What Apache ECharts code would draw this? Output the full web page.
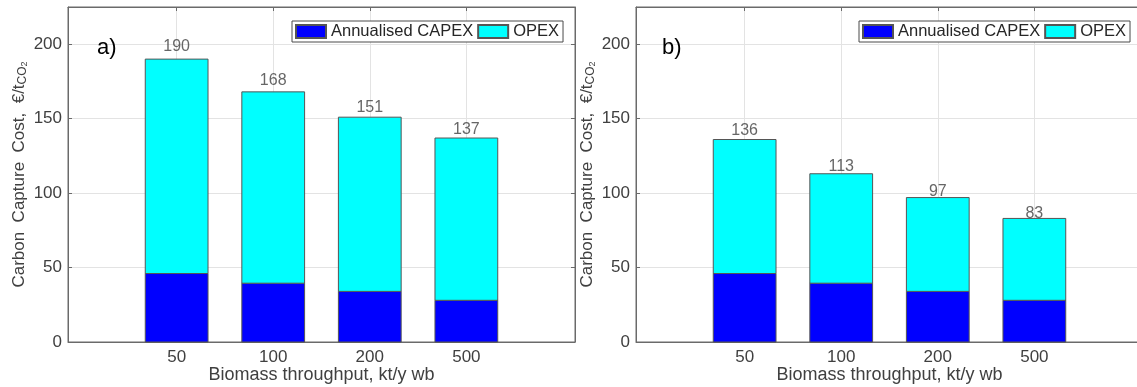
<!DOCTYPE html>
<html>
<head>
<meta charset="utf-8">
<script src="https://cdn.jsdelivr.net/npm/echarts@6/dist/echarts.min.js"></script>
<style>
html,body{margin:0;padding:0;background:#fff;}
#c{width:1137px;height:387px;}
</style>
</head>
<body>
<div id="c"></div>
<script>
// ---- data ----
const categories = ['50', '100', '200', '500'];
const capexA = [46, 39.5, 34, 28];
const opexA  = [144, 128.5, 117, 109];
const totalsA = [190, 168, 151, 137];
const capexB = [46, 39.5, 34, 28];
const opexB  = [90, 73.5, 63, 55];
const totalsB = [136, 113, 97, 83];
const yTicks = [0, 50, 100, 150, 200];
const panelLabels = ['a)', 'b)'];
const seriesNames = ['Annualised CAPEX', 'OPEX'];

// ---- style ----
const textCol = '#404040';
const axisCol = '#6a6a6a';
const gridCol = '#e3e3e3';
const edgeCol = '#555555';
const font = 'Liberation Sans, Arial, sans-serif';
const catIdx = categories.map((c, i) => i);

const chart = echarts.init(document.getElementById('c'), null, {renderer: 'canvas'});

const grids = [
  {left: 68, top: 7, width: 507, bottom: 45},
  {left: 636, top: 7, width: 507, bottom: 45}
];

function xAxes(gi) {
  const common = {
    gridIndex: gi, type: 'value', min: -1.125, max: 4.125,
    axisLine: {show: true, onZero: false, lineStyle: {color: axisCol, width: 1}},
    axisTick: {show: true, inside: true, length: 4, customValues: catIdx, lineStyle: {color: axisCol}},
  };
  return [
    Object.assign({}, common, {
      position: 'bottom',
      axisLabel: {show: true, customValues: catIdx, formatter: v => categories[v] ?? '',
        color: textCol, fontSize: 17, fontFamily: font, margin: 7},
      splitLine: {show: true, lineStyle: {color: gridCol, width: 1}},
      name: 'Biomass throughput, kt/y wb', nameLocation: 'middle', nameGap: 24,
      nameMoveOverlap: false,
      nameTextStyle: {color: textCol, fontSize: 18, fontFamily: font}
    }),
    Object.assign({}, common, {
      position: 'top',
      axisLabel: {show: false},
      splitLine: {show: false}
    })
  ];
}
function yAxes(gi) {
  const common = {
    gridIndex: gi, type: 'value', min: 0, max: 225, interval: 50,
    axisLine: {show: true, onZero: false, lineStyle: {color: axisCol, width: 1}},
    axisTick: {show: true, inside: true, length: 4, lineStyle: {color: axisCol}},
  };
  return [
    Object.assign({}, common, {
      position: 'left',
      axisLabel: {show: true, formatter: v => yTicks.includes(v) ? String(v) : '',
        color: textCol, fontSize: 17, fontFamily: font, margin: 6},
      splitLine: {show: true, lineStyle: {color: gridCol, width: 1}},
      name: '{m|Carbon  Capture  Cost,  €/t}{s|CO}{ss|2}',
      nameLocation: 'middle', nameGap: 39,
      nameTextStyle: {color: textCol, fontFamily: font,
        rich: {
          m: {fontSize: 17, lineHeight: 20, color: textCol, fontFamily: font},
          s: {fontSize: 12, lineHeight: 12, verticalAlign: 'bottom', color: textCol, fontFamily: font},
          ss: {fontSize: 9, lineHeight: 6, verticalAlign: 'bottom', color: textCol, fontFamily: font}
        }}
    }),
    Object.assign({}, common, {
      position: 'right',
      axisLabel: {show: false},
      splitLine: {show: false}
    })
  ];
}

const xAxis = [...xAxes(0), ...xAxes(1)];
const yAxis = [...yAxes(0), ...yAxes(1)];

// stacked bars drawn through the axes' scales (custom series)
function renderBar(params, api) {
  const x = api.value(0), lo = api.value(1), hi = api.value(2);
  const p0 = api.coord([x, lo]);
  const p1 = api.coord([x, hi]);
  const w = api.size([0.65, 0])[0];
  return {
    type: 'rect',
    shape: {x: p0[0] - w / 2, y: p1[1], width: w, height: p0[1] - p1[1]},
    style: {fill: api.visual('color'), stroke: edgeCol, lineWidth: 1}
  };
}
function barSeries(name, lows, vals, gi, color) {
  return {
    name: name, type: 'custom', renderItem: renderBar,
    xAxisIndex: gi * 2, yAxisIndex: gi * 2,
    itemStyle: {color: color, borderColor: edgeCol, borderWidth: 1},
    encode: {x: 0, y: [1, 2]},
    silent: true,
    data: vals.map((v, i) => [i, lows ? lows[i] : 0, (lows ? lows[i] : 0) + v])
  };
}
function totalLabels(totals, gi) {
  return {
    type: 'scatter', xAxisIndex: gi * 2, yAxisIndex: gi * 2,
    symbolSize: 0, silent: true,
    label: {show: true, position: 'inside', offset: [0, 1.5], formatter: p => String(totals[p.dataIndex]),
      color: textCol, fontSize: 16, fontFamily: font},
    data: totals.map((t, i) => [i, t * 1.05])
  };
}

const legendCommon = {
  orient: 'horizontal', top: 21, padding: [2, 4, 2, 3],
  itemWidth: 30, itemHeight: 13, itemGap: 4,
  backgroundColor: '#ffffff', borderColor: '#4a4a4a', borderWidth: 1, borderRadius: 0,
  textStyle: {color: '#262626', fontSize: 16.5, fontFamily: font},
  selectedMode: false,
  data: seriesNames.map(n => ({name: n, icon: 'rect'}))
};

const option = {
  backgroundColor: '#ffffff',
  animation: false,
  grid: grids.map(g => Object.assign({show: true, borderColor: axisCol, borderWidth: 1,
    backgroundColor: 'transparent', containLabel: false, outerBoundsMode: 'none'}, g)),
  xAxis: xAxis,
  yAxis: yAxis,
  legend: [
    Object.assign({}, legendCommon, {left: 292}),
    Object.assign({}, legendCommon, {left: 859})
  ],
  title: [
    {text: panelLabels[0], left: 97, top: 37, textStyle: {color: '#000', fontSize: 22, fontWeight: 'normal', fontFamily: font}, padding: 0},
    {text: panelLabels[1], left: 662, top: 37, textStyle: {color: '#000', fontSize: 22, fontWeight: 'normal', fontFamily: font}, padding: 0}
  ],
  series: [
    barSeries(seriesNames[0], null, capexA, 0, '#0000ff'),
    barSeries(seriesNames[1], capexA, opexA, 0, '#00ffff'),
    totalLabels(totalsA, 0),
    barSeries(seriesNames[0], null, capexB, 1, '#0000ff'),
    barSeries(seriesNames[1], capexB, opexB, 1, '#00ffff'),
    totalLabels(totalsB, 1)
  ]
};
chart.setOption(option);
</script>
</body>
</html>
